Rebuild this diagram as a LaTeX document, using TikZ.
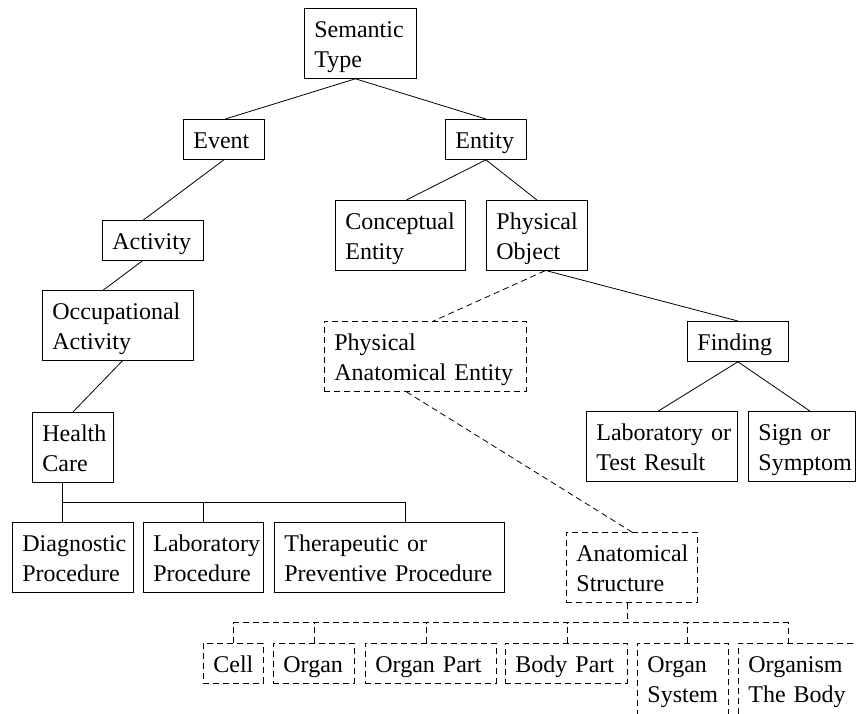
\documentclass[tikz,border=0pt]{standalone}
\usepackage{fontspec}
\setmainfont{Liberation Serif}
\usetikzlibrary{calc}
\hyphenpenalty=10000
\exhyphenpenalty=10000
\begin{document}
\begin{tikzpicture}[x=1pt, y=-1pt,
  font={\fontsize{24}{30}\selectfont},
  tbox/.style={draw=black, line width=0.8pt, rectangle, anchor=north west,
    inner xsep=10pt, inner ysep=0pt, align=left,
    text height=29pt, text depth=11pt, text width={#1pt-20pt}},
  two/.style={text depth=41pt},
  dsh/.style={dash pattern=on 6pt off 4pt},
  link/.style={draw=black, line width=0.8pt}]
\useasboundingbox (0,0) rectangle (856,713);
\clip (0,0) rectangle (856,713);

% upper part of the hierarchy
\node[tbox=112, two] (st)  at (304,8)   {Semantic\\Type};
\node[tbox=81]       (ev)  at (183,119) {Event};
\node[tbox=81]       (en)  at (445,119) {Entity};
\node[tbox=130, two] (ce)  at (335,200) {Conceptual\\Entity};
\node[tbox=101, two] (po)  at (486,200) {Physical\\Object};
\node[tbox=101]      (ac)  at (102,220) {Activity};
\node[tbox=151, two] (oa)  at (42,290)  {Occupational\\Activity};
\node[tbox=202, two, dsh] (pae) at (324,321) {Physical\\Anatomical~Entity};
\node[tbox=101]      (fi)  at (687,321) {Finding};
\node[tbox=81, two]  (hc)  at (32,412)  {Health\\Care};
\node[tbox=151, two] (lt)  at (586,411) {Laboratory~or\\Test~Result};
\node[tbox=107, two] (ss)  at (748,411) {Sign~or\\Symptom};

% health care procedures
\node[tbox=121, two] (dp)  at (12,522)  {Diagnostic\\Procedure};
\node[tbox=120, two] (lp)  at (143,522) {Laboratory\\Procedure};
\node[tbox=230, two] (tp)  at (274,522) {Therapeutic~or\\Preventive~Procedure};

% anatomical structures
\node[tbox=131, two, dsh] (as) at (566,532) {Anatomical\\Structure};
\node[tbox=60, dsh]  (cl)  at (203,643) {Cell};
\node[tbox=81, dsh]  (og)  at (273,643) {Organ};
\node[tbox=131, dsh] (op)  at (365,643) {Organ~Part};
\node[tbox=122, dsh] (bp)  at (505,643) {Body~Part};
\node[tbox=91, dsh, text depth=42pt]  (os) at (637,643) {Organ\\System};
\node[tbox=142, dsh, text depth=42pt] (ob) at (738,643) {Organism\\The~Body};

% solid links
\draw[link] ([xshift=-5pt]st.south) -- ([xshift=1.5pt]ev.north);
\draw[link] ([xshift=-5pt]st.south) -- (en.north);
\draw[link] (ev.south) -- ([xshift=-9.5pt]ac.north);
\draw[link] ([xshift=-10.5pt]ac.south) -- ([xshift=-14.5pt]oa.north);
\draw[link] ([xshift=4.5pt]oa.south) -- (hc.north);
\draw[link] (en.south) -- ([xshift=6pt]ce.north);
\draw[link] (en.south) -- (po.north);
\draw[link] ([xshift=10pt]po.south) -- (fi.north);
\draw[link] (fi.south) -- ([xshift=-3.5pt]lt.north);
\draw[link] (fi.south) -- ([xshift=8pt]ss.north);

% procedure bus
\coordinate (hbus) at ([xshift=-10.5pt, yshift=-20pt]hc.south);
\draw[link] ([xshift=-10.5pt]hc.south) -- ([xshift=-10.5pt]dp.north);
\draw[link] (hbus) -| ([xshift=16pt]tp.north);
\draw[link] (lp.north) -- (lp.north |- hbus);

% dashed links
\draw[link, dsh] ([xshift=8pt]po.south) -- ([xshift=8pt]pae.north);
\draw[link, dsh] ([xshift=-19pt]pae.south) -- (as.north);

% anatomical structure bus
\coordinate (abus) at ([xshift=-4.5pt, yshift=-20pt]as.south);
\coordinate (obtick) at ([xshift=-21pt]ob.north);
\draw[link, dsh] ([xshift=-4.5pt]as.south) -- (abus);
\draw[link, dsh] (cl.north) -- (cl.north |- abus) -- (obtick |- abus) -- (obtick);
\draw[link, dsh] (og.north) -- (og.north |- abus);
\draw[link, dsh] ([xshift=-4.5pt]op.north) -- ([xshift=-4.5pt]op.north |- abus);
\draw[link, dsh] ([xshift=1pt]bp.north) -- ([xshift=1pt]bp.north |- abus);
\draw[link, dsh] ([xshift=4.5pt]os.north) -- ([xshift=4.5pt]os.north |- abus);
\end{tikzpicture}
\end{document}
